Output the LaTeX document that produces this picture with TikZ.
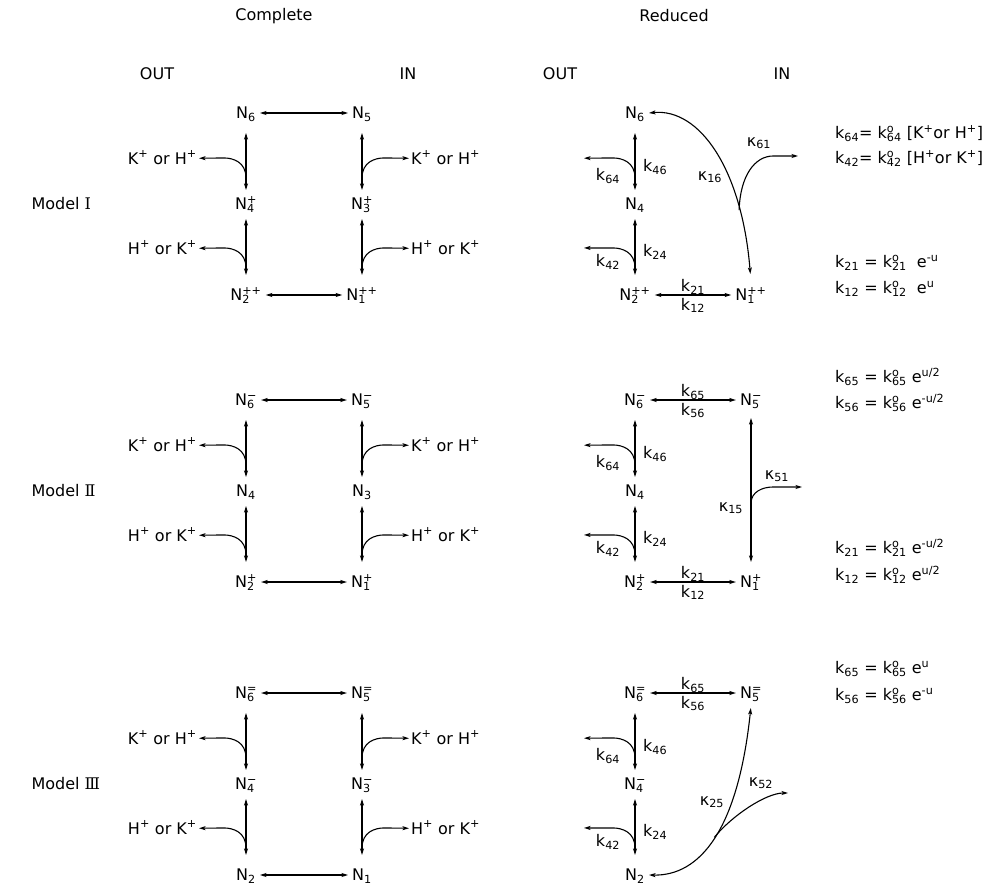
\documentclass[tikz,border=0pt]{standalone}
\usepackage{fontspec}
\setmainfont{DejaVu Sans}
\newfontfamily\numfont{DejaVu Serif}
\usetikzlibrary{arrows.meta,calc}
\newcommand{\SupSub}[2]{%
  \setbox0=\hbox{\textsuperscript{#1}}%
  \setbox2=\hbox{\textsubscript{#2}}%
  \ifdim\wd0>\wd2\relax \rlap{\copy2\relax}\copy0\relax\else\rlap{\copy0\relax}\copy2\relax\fi}
\newcommand{\Kp}{K\textsuperscript{+}}
\newcommand{\Hp}{H\textsuperscript{+}}
\tikzset{
  hd/.tip={Stealth[length=6.5pt,width=4pt,inset=1.5pt]},
  nn/.style={inner xsep=4pt, inner ysep=7pt, text height=11.7pt, text depth=0pt},
  lb/.style={inner xsep=2pt, inner ysep=0pt, text height=11.7pt, text depth=0pt},
  conn/.style={hd-hd, line width=1.1pt},
  one/.style={-hd, line width=1.1pt},
  vA/.style={conn, shorten <=7pt, shorten >=1pt},
  vB/.style={conn, shorten <=2pt, shorten >=7pt}
}
% complete block: #1 prefix, #2 top y, #3..#8 node texts
\newcommand{\CBlock}[8]{%
  \node[nn] (#1t6) at (246,#2) {#3};
  \node[nn] (#1t5) at (362,#2) {#4};
  \node[nn] (#1t4) at (246,{#2+91}) {#5};
  \node[nn] (#1t3) at (362,{#2+91}) {#6};
  \node[nn] (#1t2) at (246,{#2+182}) {#7};
  \node[nn] (#1t1) at (362,{#2+182}) {#8};
  \node[lb, anchor=east] (#1L1) at (199,{#2+45.25}) {\Kp\ or \Hp};
  \node[lb, anchor=west] (#1R1) at (409,{#2+45.25}) {\Kp\ or \Hp};
  \node[lb, anchor=east] (#1L2) at (199,{#2+135.25}) {\Hp\ or \Kp};
  \node[lb, anchor=west] (#1R2) at (409,{#2+135.25}) {\Hp\ or \Kp};
  \draw[conn] (#1t6) -- (#1t5);
  \draw[conn] (#1t2) -- (#1t1);
  \draw[vA] (#1t6.south) -- (#1t6.south |- #1t4.north);
  \draw[vB] (#1t4.south) -- (#1t4.south |- #1t2.north);
  \draw[vA] (#1t5.south) -- (#1t5.south |- #1t3.north);
  \draw[vB] (#1t3.south) -- (#1t3.south |- #1t1.north);
  \draw[one] ([yshift=13pt]#1t4.north) .. controls +(0,-16) and +(9,0) .. ++(-22,-20) -- (#1L1.east);
  \draw[one] ([yshift=13pt]#1t3.north) .. controls +(0,-16) and +(-9,0) .. ++(22,-20) -- (#1R1.west);
  \draw[one] ([yshift=14pt]#1t2.north) .. controls +(0,-16) and +(9,0) .. ++(-22,-20) -- (#1L2.east);
  \draw[one] ([yshift=14pt]#1t1.north) .. controls +(0,-16) and +(-9,0) .. ++(22,-20) -- (#1R2.west);
}
% reduced left column: #1 prefix
\newcommand{\RLeft}[1]{%
  \draw[vA] (#1t6.south) -- (#1t6.south |- #1t4.north);
  \draw[vB] (#1t4.south) -- (#1t4.south |- #1t2.north);
  \coordinate (#1e64) at ($(#1t4.north)+(-51,-32.75)$);
  \coordinate (#1e42) at ($(#1t2.north)+(-51,-34)$);
  \draw[one] ([yshift=13pt]#1t4.north) .. controls +(0,-16) and +(9,0) .. ++(-22,-20) -- (#1e64);
  \draw[one] ([yshift=14pt]#1t2.north) .. controls +(0,-16) and +(9,0) .. ++(-22,-20) -- (#1e42);
  \node[lb] (#1k64) at ($(#1t4)+(-27,-29)$) {k\textsubscript{64}};
  \node[lb, anchor=west] (#1k46) at ($(#1t4)+(6,-38)$) {k\textsubscript{46}};
  \node[lb] (#1k42) at ($(#1t2)+(-27,-34)$) {k\textsubscript{42}};
  \node[lb, anchor=west] (#1k24) at ($(#1t2)+(6,-44)$) {k\textsubscript{24}};
}
\begin{document}
\begin{tikzpicture}[x=1pt,y=-1pt, every node/.append style={font=\fontsize{16}{19}\selectfont}]
\useasboundingbox (0,0) rectangle (989,889);

% titles
\node (tC) at (274,16) {Complete};
\node (tR) at (674,16) {Reduced};
\node (o1) at (157,74) {OUT};
\node (i1) at (408,74) {IN};
\node (o2) at (560,74) {OUT};
\node (i2) at (782,74) {IN};

% model labels
\node[anchor=west] (m1) at (28,204) {Model {\numfont Ⅰ}};
\node[anchor=west] (m2) at (28,491) {Model {\numfont Ⅱ}};
\node[anchor=west] (m3) at (28,784) {Model {\numfont Ⅲ}};

% complete
\CBlock{A}{113}{N\textsubscript{6}}{N\textsubscript{5}}{N\SupSub{+}{4}}{N\SupSub{+}{3}}{N\SupSub{++}{2}}{N\SupSub{++}{1}}
\CBlock{B}{400}{N\SupSub{−}{6}}{N\SupSub{−}{5}}{N\textsubscript{4}}{N\textsubscript{3}}{N\SupSub{+}{2}}{N\SupSub{+}{1}}
\CBlock{C}{693}{N\SupSub{=}{6}}{N\SupSub{=}{5}}{N\SupSub{−}{4}}{N\SupSub{−}{3}}{N\textsubscript{2}}{N\textsubscript{1}}

% reduced model I
\node[nn] (Pt6) at (635,113) {N\textsubscript{6}};
\node[nn] (Pt4) at (635,204) {N\textsubscript{4}};
\node[nn] (Pt2) at (635,295) {N\SupSub{++}{2}};
\node[nn] (Pt1) at (751,295) {N\SupSub{++}{1}};
\RLeft{P}
\draw[conn] (Pt2) -- (Pt1) node[lb, midway, above=3pt] (Pk21) {k\textsubscript{21}} node[lb, midway, below=3pt] (Pk12) {k\textsubscript{12}};
\draw[conn, shorten >=8pt] (Pt6.east) .. controls (700,108) and (742,170) .. coordinate[pos=0.76] (J1) (Pt1.north);
\coordinate (E61) at (798,156);
\draw[one] (J1) .. controls +(1,-35) and +(-18,0) .. ($(E61 -| J1)+(34,0)$) -- (E61);
\node (K16) at (710,177) {κ\textsubscript{16}};
\node (K61) at (759,143) {κ\textsubscript{61}};

% reduced model II
\node[nn] (Qt6) at (635,400) {N\SupSub{−}{6}};
\node[nn] (Qt5) at (751,400) {N\SupSub{−}{5}};
\node[nn] (Qt4) at (635,491) {N\textsubscript{4}};
\node[nn] (Qt2) at (635,582) {N\SupSub{+}{2}};
\node[nn] (Qt1) at (751,582) {N\SupSub{+}{1}};
\RLeft{Q}
\draw[conn] (Qt6) -- (Qt5) node[lb, midway, above=3pt] (Qk65) {k\textsubscript{65}} node[lb, midway, below=3pt] (Qk56) {k\textsubscript{56}};
\draw[conn] (Qt2) -- (Qt1) node[lb, midway, above=3pt] (Qk21) {k\textsubscript{21}} node[lb, midway, below=3pt] (Qk12) {k\textsubscript{12}};
\draw[conn, shorten <=5pt, shorten >=7pt] (Qt5.south) -- (Qt5.south |- Qt1.north) coordinate[pos=0.58] (J2);
\coordinate (E51) at (802,487);
\draw[one] (J2) .. controls +(0,-12) and +(-10,0) .. ($(E51 -| J2)+(22,0)$) -- (E51);
\node (K51) at (777,476) {κ\textsubscript{51}};
\node (K15) at (731,508) {κ\textsubscript{15}};

% reduced model III
\node[nn] (St6) at (635,693) {N\SupSub{=}{6}};
\node[nn] (St5) at (751,693) {N\SupSub{=}{5}};
\node[nn] (St4) at (635,784) {N\SupSub{−}{4}};
\node[nn] (St2) at (635,875) {N\textsubscript{2}};
\RLeft{S}
\draw[conn] (St6) -- (St5) node[lb, midway, above=3pt] (Sk65) {k\textsubscript{65}} node[lb, midway, below=3pt] (Sk56) {k\textsubscript{56}};
\draw[conn, shorten >=2pt] (St2.east) .. controls (700,876) and (738,830) .. coordinate[pos=0.5] (J3) (St5.south);
\coordinate (E52) at (788,793);
\draw[one] (J3) .. controls +(18,-22) and +(-22,0) .. (E52);
\node (K25) at (712,802) {κ\textsubscript{25}};
\node (K52) at (761,783) {κ\textsubscript{52}};

% equations
\begin{scope}[every node/.append style={lb, anchor=west}]
\node (q1) at (833,133) {k\textsubscript{64}= k\SupSub{o}{64} [\Kp or \Hp]};
\node (q2) at (833,158) {k\textsubscript{42}= k\SupSub{o}{42} [\Hp or \Kp]};
\node (q3) at (833,262) {k\textsubscript{21} = k\SupSub{o}{21}\ \ e\textsuperscript{-u}};
\node (q4) at (833,288) {k\textsubscript{12} = k\SupSub{o}{12}\ \ e\textsuperscript{u}};
\node (q5) at (833,377) {k\textsubscript{65} = k\SupSub{o}{65} e\textsuperscript{u/2}};
\node (q6) at (833,403) {k\textsubscript{56} = k\SupSub{o}{56} e\textsuperscript{-u/2}};
\node (q7) at (833,548) {k\textsubscript{21} = k\SupSub{o}{21} e\textsuperscript{-u/2}};
\node (q8) at (833,575) {k\textsubscript{12} = k\SupSub{o}{12} e\textsuperscript{u/2}};
\node (q9) at (833,668) {k\textsubscript{65} = k\SupSub{o}{65} e\textsuperscript{u}};
\node (q10) at (833,695) {k\textsubscript{56} = k\SupSub{o}{56} e\textsuperscript{-u}};
\end{scope}
\end{tikzpicture}
\end{document}
